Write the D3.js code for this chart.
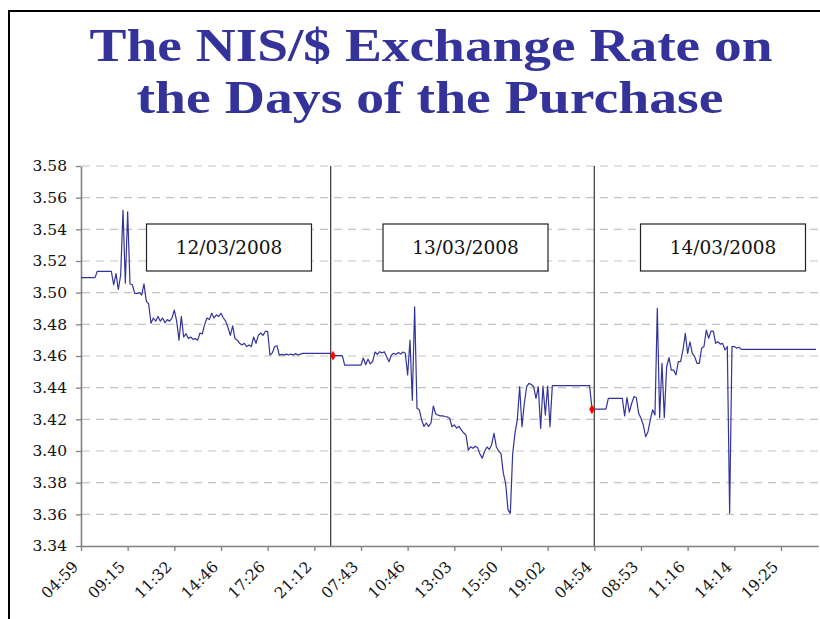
<!DOCTYPE html>
<html>
<head>
<meta charset="utf-8">
<script src="https://cdn.jsdelivr.net/npm/d3@7"></script>
<style>
  body { margin: 0; background: #fff; }
  svg { display: block; }
</style>
</head>
<body>
<div id="chart"></div>
<script>
// NIS/$ exchange rate, 12-14 March 2008 (one value per category step)
const timeLabels = ["04:59", "09:15", "11:32", "14:46", "17:26", "21:12", "07:43", "10:46",
    "13:03", "15:50", "19:02", "04:54", "08:53", "11:16", "14:14", "19:25"];
const tickIndex = [0, 20, 40, 60, 80, 100, 120, 140, 160, 180, 200, 220, 240, 260, 280, 300];
const dayLabels = ["12/03/2008", "13/03/2008", "14/03/2008"];
const daySplit = [107, 220];
const yTickValues = [3.34, 3.36, 3.38, 3.40, 3.42, 3.44, 3.46, 3.48, 3.50, 3.52, 3.54, 3.56, 3.58];

const day1Rates = [
    3.5095, 3.5095, 3.5095, 3.5095, 3.5095, 3.5095, 3.5095,
    3.5135, 3.5135, 3.5135, 3.5135, 3.5135, 3.5135, 3.5135,
    3.505, 3.512, 3.502, 3.511, 3.552, 3.506, 3.551, 3.5055, 3.505, 3.4996,
    3.4996, 3.500, 3.4985, 3.5055, 3.4945, 3.493, 3.4807, 3.484, 3.482, 3.485,
    3.482, 3.484, 3.481, 3.483, 3.482, 3.484, 3.489, 3.482, 3.470, 3.485,
    3.472, 3.474, 3.471, 3.472, 3.4705, 3.471, 3.470, 3.4745, 3.474, 3.480,
    3.484, 3.483, 3.487, 3.484, 3.486, 3.485, 3.487, 3.484, 3.482, 3.478,
    3.473, 3.479, 3.471, 3.470, 3.468, 3.467, 3.468, 3.466, 3.467, 3.466,
    3.472, 3.468, 3.473, 3.4745, 3.473, 3.4755, 3.4755, 3.4606, 3.462, 3.466,
    3.4665, 3.4606, 3.461, 3.4606, 3.4612, 3.4606, 3.4612, 3.4606, 3.4615, 3.4606,
    3.4612,
    3.4617, 3.4617, 3.4617, 3.4617, 3.4617, 3.4617, 3.4617, 3.4617, 3.4617, 3.4617,
    3.4617, 3.4617, 3.4617
];

const day2Rates = [
    3.4602, 3.4602, 3.4602, 3.4602, 3.4602,
    3.4543, 3.4543, 3.4543, 3.4543, 3.4543, 3.4543, 3.4543, 3.4543,
    3.4587, 3.4545, 3.458, 3.455, 3.4565, 3.4625, 3.461, 3.4627, 3.462, 3.4627,
    3.4596, 3.4564, 3.4605, 3.4617, 3.461, 3.4622, 3.4612, 3.4625, 3.4617, 3.448,
    3.470, 3.432, 3.491, 3.427, 3.426, 3.4196, 3.4155, 3.4177, 3.4155, 3.4177,
    3.4284, 3.4235, 3.4227, 3.4222, 3.4222, 3.4218, 3.4215, 3.4207, 3.4153, 3.4165,
    3.4145, 3.4155, 3.4133, 3.4115, 3.410, 3.4006, 3.4027, 3.4017, 3.403, 3.402,
    3.398, 3.3954, 3.400, 3.4025, 3.401, 3.404, 3.4112, 3.4027, 3.400, 3.3985,
    3.386, 3.3796, 3.363, 3.3606, 3.398, 3.4113, 3.4196, 3.4406, 3.4153, 3.430,
    3.4406, 3.4427, 3.442, 3.4406, 3.4333, 3.4406, 3.4143, 3.441, 3.4227, 3.441,
    3.4153,
    3.4413, 3.4413, 3.4413, 3.4413, 3.4413, 3.4413, 3.4413, 3.4413, 3.4413, 3.4413,
    3.4413, 3.4413, 3.4413, 3.4413, 3.4413, 3.4413, 3.4413
];

const day3Rates = [
    3.4263,
    3.4265, 3.4265, 3.4265, 3.4265, 3.4265, 3.4265,
    3.4333, 3.4333, 3.4333, 3.4333, 3.4333, 3.4333, 3.4333,
    3.4221, 3.4338, 3.4245, 3.430, 3.4343, 3.4338, 3.4238, 3.4207, 3.4164, 3.409,
    3.4122, 3.4196, 3.426, 3.4227, 3.4901, 3.421, 3.4554, 3.421, 3.4532, 3.459,
    3.4511, 3.4511, 3.448, 3.4564, 3.4564, 3.4638, 3.4743, 3.4617, 3.469, 3.4617,
    3.4596, 3.4554, 3.4554, 3.4649, 3.466, 3.4764, 3.4712, 3.4757, 3.4757, 3.468,
    3.469, 3.4675, 3.468, 3.4638, 3.466, 3.3607, 3.4659, 3.466, 3.465, 3.4655,
    3.4642, 3.4642, 3.4642, 3.4642, 3.4642, 3.4642, 3.4642, 3.4642, 3.4642, 3.4642,
    3.4642, 3.4642, 3.4642, 3.4642, 3.4642, 3.4642, 3.4642, 3.4642, 3.4642, 3.4642,
    3.4642, 3.4642, 3.4642, 3.4642, 3.4642, 3.4642, 3.4642, 3.4642, 3.4642, 3.4642,
    3.4642, 3.4642, 3.4642
];

// purchase points (red markers)
const purchaseIndex = [108, 219];
const purchaseRate = [3.4602, 3.4263];

const width = 820;
const height = 619;
const margin = { top: 166, right: 1.7, bottom: 73, left: 81 };
const navy = "#333399";
const tickFont = "'DejaVu Serif', Georgia, serif";

const rates = day1Rates.concat(day2Rates, day3Rates);
const series = rates.map((v, i) => ({ i: i, v: v }));

const svg = d3.select("#chart")
    .append("svg")
    .attr("width", width)
    .attr("height", height);

svg.append("rect").attr("width", width).attr("height", height).attr("fill", "#fff");

// slide frame (left + top edges only)
svg.append("path")
    .attr("d", `M9,${height} V11 H${width}`)
    .attr("fill", "none")
    .attr("stroke", "#000")
    .attr("stroke-width", 2);

// -- Title --
const title = svg.append("g")
    .attr("fill", navy)
    .attr("font-family", "'Liberation Serif', 'Times New Roman', serif")
    .attr("font-weight", "bold")
    .attr("font-size", 46)
    .attr("text-anchor", "middle");

title.append("text")
    .attr("x", 431).attr("y", 61)
    .attr("textLength", 683).attr("lengthAdjust", "spacingAndGlyphs")
    .text("The NIS/$ Exchange Rate on");

title.append("text")
    .attr("x", 430).attr("y", 113)
    .attr("textLength", 587).attr("lengthAdjust", "spacingAndGlyphs")
    .text("the Days of the Purchase");

// -- Scales --
const x = d3.scaleLinear()
    .domain([0, rates.length])
    .range([margin.left, width - margin.right]);

const y = d3.scaleLinear()
    .domain([3.34, 3.58])
    .range([height - margin.bottom, margin.top]);

// -- Gridlines --
svg.append("g")
    .selectAll("line")
    .data(yTickValues.slice(1))
    .join("line")
    .attr("x1", margin.left + 1)
    .attr("x2", width - margin.right)
    .attr("y1", d => y(d))
    .attr("y2", d => y(d))
    .attr("stroke", "#c4c4c4")
    .attr("stroke-width", 1.2)
    .attr("stroke-dasharray", "8,6");

// -- Date boxes --
const boxCenters = [229, 465.5, 723];
const boxW = 165, boxH = 47, boxTop = 224;

const boxes = svg.append("g")
    .selectAll("g")
    .data(dayLabels)
    .join("g")
    .attr("transform", (d, i) => `translate(${boxCenters[i]},${boxTop})`);

boxes.append("rect")
    .attr("x", -boxW / 2)
    .attr("width", boxW)
    .attr("height", boxH)
    .attr("fill", "#fff")
    .attr("stroke", "#222")
    .attr("stroke-width", 1.2);

boxes.append("text")
    .attr("y", boxH / 2)
    .attr("dy", "0.36em")
    .attr("text-anchor", "middle")
    .attr("font-family", tickFont)
    .attr("font-size", 18.5)
    .attr("fill", "#111")
    .text(d => d);

// -- Day separators --
svg.append("g")
    .selectAll("line")
    .data(daySplit)
    .join("line")
    .attr("x1", d => x(d))
    .attr("x2", d => x(d))
    .attr("y1", y(3.58))
    .attr("y2", y(3.34))
    .attr("stroke", "#444")
    .attr("stroke-width", 1.3);

// -- Axes --
const yAxis = svg.append("g")
    .attr("transform", `translate(${margin.left},0)`)
    .call(d3.axisLeft(y)
        .tickValues(yTickValues)
        .tickFormat(d3.format(".2f"))
        .tickSize(5)
        .tickSizeOuter(0)
        .tickPadding(9));

const xAxis = svg.append("g")
    .attr("transform", `translate(0,${height - margin.bottom})`)
    .call(d3.axisBottom(x)
        .tickValues(tickIndex)
        .tickFormat((d, i) => timeLabels[i])
        .tickSize(5)
        .tickSizeOuter(0));

[yAxis, xAxis].forEach(a => {
    a.select(".domain").attr("stroke", "#808080").attr("stroke-width", 1.6);
    a.selectAll(".tick line").attr("stroke", "#808080").attr("stroke-width", 1.3);
    a.selectAll("text")
        .attr("fill", "#111")
        .style("font-family", tickFont)
        .style("font-size", "15.5px");
});

xAxis.selectAll(".tick text")
    .attr("text-anchor", "end")
    .attr("x", -17)
    .attr("y", 8.5)
    .attr("dy", "0.35em")
    .attr("transform", "rotate(-45)");

// -- Rate line --
const line = d3.line()
    .x(d => x(d.i))
    .y(d => y(d.v));

svg.append("path")
    .datum(series)
    .attr("fill", "none")
    .attr("stroke", navy)
    .attr("stroke-width", 1.2)
    .attr("stroke-linejoin", "round")
    .attr("d", line);

// -- Purchase markers --
svg.append("g")
    .selectAll("path")
    .data(purchaseIndex)
    .join("path")
    .attr("transform", (d, i) => `translate(${x(d)},${y(purchaseRate[i])})`)
    .attr("d", d3.symbol(d3.symbolDiamond, 28))
    .attr("fill", "#ff0000");
</script>
</body>
</html>
